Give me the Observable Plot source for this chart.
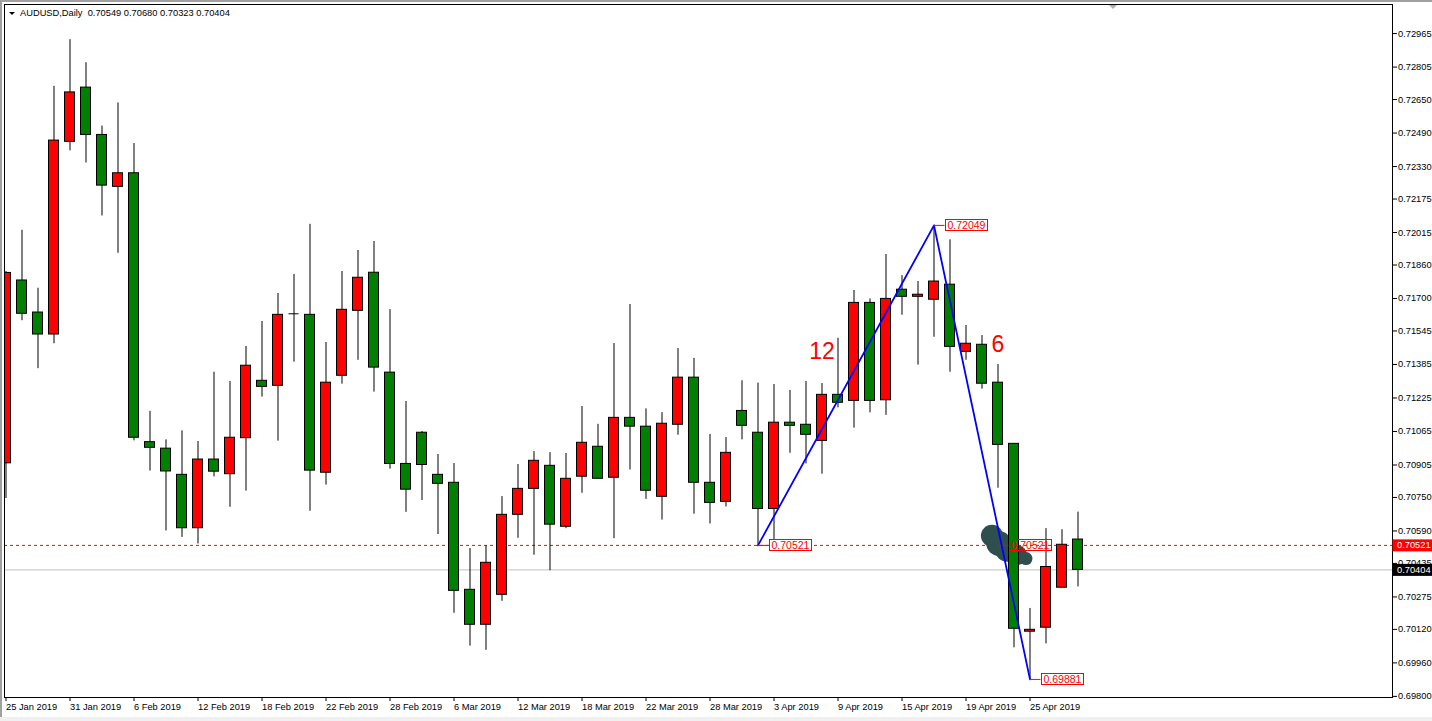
<!DOCTYPE html>
<html>
<head>
<meta charset="utf-8">
<script src="https://cdn.jsdelivr.net/npm/d3@7"></script>
<script src="https://cdn.jsdelivr.net/npm/@observablehq/plot@0.6"></script>
<style>
html, body { margin: 0; padding: 0; background: #fff; }
#wrap { position: relative; width: 1432px; height: 721px; overflow: hidden; background: #fff; }
#wrap svg { position: absolute; left: 0; top: 0; }
#legend { position: absolute; left: 20px; top: 8px; font: 9.3px "Liberation Sans", Arial, sans-serif; line-height: 10px; color: #000; white-space: pre; }
#tri { position: absolute; left: 9px; top: 12px; width: 0; height: 0; border-left: 3px solid transparent; border-right: 3px solid transparent; border-top: 3px solid #000; }
#shift { position: absolute; left: 1109px; top: 5px; width: 0; height: 0; border-left: 4px solid transparent; border-right: 4px solid transparent; border-top: 4px solid #b0b0b0; }
.bt { position: absolute; left: 0; top: 0; width: 1432px; height: 2px; background: #a0a0a0; }
.bl { position: absolute; left: 0; top: 0; width: 2px; height: 721px; background: #a0a0a0; }
.bb { position: absolute; left: 0; top: 717px; width: 1432px; height: 4px; background: #f0f0f0; }
</style>
</head>
<body>
<div id="wrap">
  <div class="bt"></div><div class="bl"></div><div class="bb"></div>
  <div id="tri"></div>
  <div id="legend">AUDUSD,Daily  0.70549 0.70680 0.70323 0.70404</div>
  <div id="shift"></div>
</div>
<script>
// ---- data ----
const dates = ["2019-01-25","2019-01-28","2019-01-29","2019-01-30","2019-01-31","2019-02-01","2019-02-04","2019-02-05","2019-02-06","2019-02-07",
"2019-02-08","2019-02-11","2019-02-12","2019-02-13","2019-02-14","2019-02-15","2019-02-18","2019-02-19","2019-02-20","2019-02-21",
"2019-02-22","2019-02-25","2019-02-26","2019-02-27","2019-02-28","2019-03-01","2019-03-04","2019-03-05","2019-03-06","2019-03-07",
"2019-03-08","2019-03-11","2019-03-12","2019-03-13","2019-03-14","2019-03-15","2019-03-18","2019-03-19","2019-03-20","2019-03-21",
"2019-03-22","2019-03-25","2019-03-26","2019-03-27","2019-03-28","2019-03-29","2019-04-01","2019-04-02","2019-04-03","2019-04-04",
"2019-04-05","2019-04-08","2019-04-09","2019-04-10","2019-04-11","2019-04-12","2019-04-15","2019-04-16","2019-04-17","2019-04-18",
"2019-04-19","2019-04-22","2019-04-23","2019-04-24","2019-04-25","2019-04-26","2019-04-29","2019-04-30"];

const opens = [0.70913,0.71786,0.71633,0.71528,0.72448,0.72707,0.72481,0.72233,0.72298,0.71014,
0.70983,0.70858,0.70603,0.70931,0.70861,0.71033,0.71307,0.71283,0.71627,0.71622,
0.70868,0.71331,0.71641,0.71823,0.71346,0.70910,0.71059,0.70858,0.70820,0.70309,
0.70142,0.70285,0.70667,0.70791,0.70901,0.70610,0.70849,0.70992,0.70844,0.71130,
0.71088,0.70753,0.71097,0.71322,0.70820,0.70729,0.71163,0.71059,0.70695,0.71107,
0.71097,0.71020,0.71240,0.71211,0.71679,0.71214,0.71742,0.71708,0.71694,0.71766,
0.71445,0.71479,0.71298,0.71006,0.70109,0.70128,0.70319,0.70549];

const highs = [0.71829,0.72026,0.71749,0.72713,0.72936,0.72826,0.72523,0.72634,0.72440,0.71161,
0.71025,0.71068,0.71017,0.71348,0.71304,0.71471,0.71590,0.71724,0.71815,0.72054,
0.71490,0.71829,0.71929,0.71972,0.71647,0.71208,0.71065,0.70955,0.70912,0.70506,
0.70519,0.70754,0.70907,0.70969,0.70964,0.70960,0.71184,0.71099,0.71485,0.71671,
0.71173,0.71155,0.71461,0.71414,0.71051,0.71036,0.71307,0.71296,0.71289,0.71261,
0.71304,0.71294,0.71510,0.71738,0.71698,0.71910,0.71809,0.71781,0.72049,0.71980,
0.71571,0.71523,0.71385,0.71006,0.70220,0.70601,0.70596,0.70680];

const lows = [0.70745,0.71594,0.71365,0.71484,0.72405,0.72347,0.72094,0.71916,0.71020,0.70876,
0.70590,0.70559,0.70528,0.70848,0.70703,0.70780,0.71229,0.71019,0.71396,0.70684,
0.70809,0.71291,0.71405,0.71253,0.70885,0.70679,0.70735,0.70573,0.70197,0.70040,
0.70020,0.70254,0.70555,0.70474,0.70400,0.70601,0.70770,0.70839,0.70553,0.70881,
0.70741,0.70642,0.71047,0.70670,0.70623,0.70705,0.71025,0.70521,0.70529,0.70961,
0.70910,0.70861,0.71178,0.71081,0.71154,0.71142,0.71620,0.71382,0.71515,0.71348,
0.71405,0.71267,0.70794,0.70032,0.69881,0.70051,0.70319,0.70323];

const closes = [0.71822,0.71627,0.71528,0.72454,0.72684,0.72481,0.72239,0.72298,0.71035,0.70987,
0.70874,0.70603,0.70931,0.70873,0.71035,0.71379,0.71278,0.71622,0.71627,0.70878,
0.71298,0.71646,0.71799,0.71370,0.70910,0.70787,0.70905,0.70815,0.70304,0.70142,
0.70438,0.70667,0.70791,0.70925,0.70620,0.70839,0.71011,0.70839,0.71130,0.71088,
0.70782,0.71102,0.71322,0.70820,0.70724,0.70963,0.71092,0.70695,0.71107,0.71092,
0.71049,0.71240,0.71202,0.71679,0.71211,0.71698,0.71708,0.71718,0.71781,0.71469,
0.71484,0.71293,0.71001,0.70123,0.70118,0.70418,0.70524,0.70404];

const tickDates = ["2019-01-25","2019-01-31","2019-02-06","2019-02-12","2019-02-18","2019-02-22","2019-02-28","2019-03-06","2019-03-12",
"2019-03-18","2019-03-22","2019-03-28","2019-04-03","2019-04-09","2019-04-15","2019-04-19","2019-04-25"];
const tickLabels = ["25 Jan 2019","31 Jan 2019","6 Feb 2019","12 Feb 2019","18 Feb 2019","22 Feb 2019","28 Feb 2019","6 Mar 2019","12 Mar 2019",
"18 Mar 2019","22 Mar 2019","28 Mar 2019","3 Apr 2019","9 Apr 2019","15 Apr 2019","19 Apr 2019","25 Apr 2019"];
const priceTicks = [0.72965,0.72805,0.72650,0.72490,0.72330,0.72175,0.72015,0.71860,0.71700,0.71545,0.71385,
0.71225,0.71065,0.70905,0.70750,0.70590,0.70435,0.70275,0.70120,0.69960,0.69800];

const bidPrice = 0.70404;
const levelPrice = 0.70521;

const zigzagDates = ["2019-04-02","2019-04-17","2019-04-25"];
const zigzagPrices = [0.70521, 0.72049, 0.69881];

const tagDates = ["2019-04-02","2019-04-17","2019-04-25"];
const tagPrices = [0.70521, 0.72049, 0.69881];
const backTagDates = ["2019-04-23"];
const backTagPrices = [0.70521];

const waveDates = ["2019-04-08","2019-04-23"];
const wavePrices = [0.71412, 0.71444];
const waveTexts = ["12","6"];

// smudge (dark blot in the reference): bar position / price / radius in px
const smudgeBar = [61.62, 62.05, 62.55, 63.2, 63.75];
const smudgePrice = [0.70567, 0.70530, 0.70498, 0.70474, 0.70458];
const smudgeR = [11, 12.5, 11.5, 10, 6.5];

// ---- build tables ----
const idx = d => dates.indexOf(d);
const candles = dates.map((d, i) => ({i, date: d, open: opens[i], high: highs[i], low: lows[i], close: closes[i]}));
const up = candles.filter(c => c.close > c.open);
const down = candles.filter(c => c.close < c.open);
const doji = candles.filter(c => c.close === c.open);
const zig = zigzagDates.map((d, k) => ({i: idx(d), p: zigzagPrices[k]}));
const tags = tagDates.map((d, k) => ({i: idx(d), p: tagPrices[k]}));
const backTags = backTagDates.map((d, k) => ({i: idx(d), p: backTagPrices[k]}));
const waves = waveDates.map((d, k) => ({i: idx(d), p: wavePrices[k], t: waveTexts[k]}));
const smudge = smudgeBar.map((b, k) => ({i: b, p: smudgePrice[k], r: smudgeR[k]}));
const tickIdx = tickDates.map(idx);
const markers = [{p: levelPrice, kind: "level"}, {p: bidPrice, kind: "bid"}];

const halfBody = 0.3125;
const tagOffset = 0.6875;

const tagMarks = (data, name) => [
  Plot.ruleY(data, {y: "p", x1: "i", x2: d => d.i + tagOffset, stroke: "#ff0000", strokeWidth: 1}),
  Plot.text(data, {x: "i", y: "p", text: d => d.p.toFixed(5), dx: 13.5, textAnchor: "start",
    fill: "#ff0000", fontSize: 10.5, ariaDescription: name})
];

const plot = Plot.plot({
  width: 1432, height: 721,
  marginLeft: 4, marginRight: 40, marginTop: 4, marginBottom: 24,
  x: {type: "linear", domain: [-0.09375, 86.65625]},
  y: {type: "linear", domain: [0.6979475, 0.7310382]},
  r: {type: "identity"},
  style: {fontFamily: '"Liberation Sans", Arial, sans-serif', fontSize: "9.3px", background: "transparent", color: "#000", overflow: "visible"},
  marks: [
    Plot.ruleY([bidPrice], {stroke: "#c0c0c0", strokeWidth: 1}),
    Plot.ruleY([levelPrice], {stroke: "#ff0000", strokeWidth: 1, strokeDasharray: "3,3"}),
    Plot.dot(smudge, {x: "i", y: "p", r: "r", fill: "#2f4f4f", stroke: "none"}),
    Plot.ruleX(candles, {x: "i", y1: "low", y2: "high", stroke: "#000", strokeWidth: 1, clip: true}),
    Plot.rect(up, {x1: d => d.i - halfBody, x2: d => d.i + halfBody, y1: "open", y2: "close", fill: "#ff0000", stroke: "#000", strokeWidth: 1, clip: true}),
    Plot.rect(down, {x1: d => d.i - halfBody, x2: d => d.i + halfBody, y1: "open", y2: "close", fill: "#008000", stroke: "#000", strokeWidth: 1, clip: true}),
    Plot.ruleY(doji, {y: "open", x1: d => d.i - halfBody, x2: d => d.i + halfBody, stroke: "#000", strokeWidth: 1}),
    ...tagMarks(backTags, "tag-back"),
    Plot.line(zig, {x: "i", y: "p", stroke: "#0000ff", strokeWidth: 1.8}),
    ...tagMarks(tags, "tag-front"),
    Plot.text(waves, {x: "i", y: "p", text: "t", fill: "#ff0000", fontSize: 23, lineAnchor: "bottom", textAnchor: "middle"}),
    Plot.axisY(priceTicks, {anchor: "right", tickSize: 4, tickPadding: 1.5, tickFormat: d => d.toFixed(5), label: null}),
    Plot.axisX(tickIdx, {anchor: "bottom", tickSize: 4, tickPadding: 2, textAnchor: "start", dx: 0,
      tickFormat: i => tickLabels[tickIdx.indexOf(i)], label: null}),
    Plot.frame({stroke: "#000", strokeWidth: 1}),
    Plot.text(markers.filter(m => m.kind === "level"), {y: "p", text: d => d.p.toFixed(5), frameAnchor: "right", dx: 4.5, textAnchor: "start", fill: "#fff", ariaDescription: "box-level"}),
    Plot.text(markers.filter(m => m.kind === "bid"), {y: "p", text: d => d.p.toFixed(5), frameAnchor: "right", dx: 4.5, textAnchor: "start", fill: "#fff", ariaDescription: "box-bid"})
  ]
});

document.getElementById("wrap").insertBefore(plot, document.getElementById("tri"));

const NS = "http://www.w3.org/2000/svg";
function boxes(label, opts) {
  const svgRect = plot.getBoundingClientRect();
  plot.querySelectorAll(`g[aria-description="${label}"]`).forEach(g => {
    g.querySelectorAll("text").forEach(t => {
      const b = t.getBoundingClientRect();
      const x = b.left - svgRect.left, y = b.top - svgRect.top;
      const r = document.createElementNS(NS, "rect");
      if (opts.axis) {
        r.setAttribute("x", 1392.5);
        r.setAttribute("width", 1432 - 1392.5);
        r.setAttribute("y", y - 1);
        r.setAttribute("height", b.height + 2);
      } else {
        r.setAttribute("x", Math.round(x - 2.5) + 0.5);
        r.setAttribute("width", Math.round(b.width + 4));
        r.setAttribute("y", Math.round(y) + 0.5);
        r.setAttribute("height", Math.round(b.height) - 1);
      }
      r.setAttribute("fill", opts.fill);
      r.setAttribute("stroke", opts.stroke);
      r.setAttribute("stroke-width", 1);
      g.parentNode.insertBefore(r, g);
    });
  });
}
boxes("tag-back", {fill: "none", stroke: "#ff0000"});
boxes("tag-front", {fill: "#fff", stroke: "#ff0000"});
boxes("box-level", {fill: "#ff0000", stroke: "none", axis: true});
boxes("box-bid", {fill: "#000", stroke: "none", axis: true});
</script>
</body>
</html>
